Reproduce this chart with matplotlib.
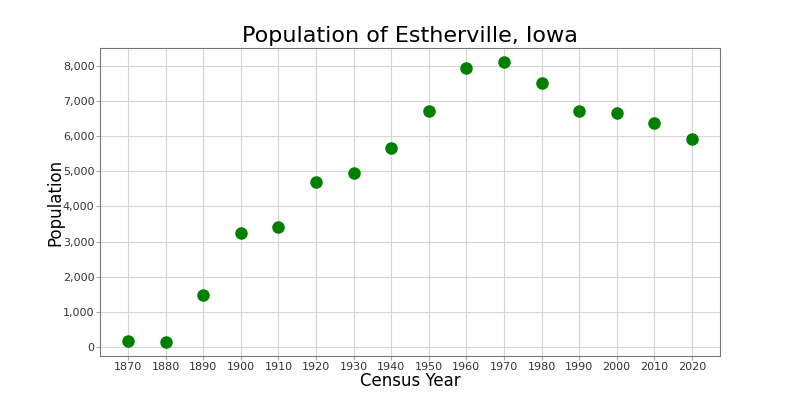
import matplotlib
matplotlib.use('Agg')
import matplotlib.pyplot as plt
from matplotlib.ticker import FuncFormatter

years = [1870, 1880, 1890, 1900, 1910, 1920, 1930, 1940, 1950, 1960, 1970, 1980, 1990, 2000, 2010, 2020]
population = [178, 145, 1475, 3237, 3404, 4699, 4940, 5651, 6719, 7927, 8108, 7518, 6720, 6656, 6360, 5904]

fig, ax = plt.subplots(figsize=(8, 4), dpi=100)
ax.plot(years, population, 'o', color='green', markersize=8)
ax.set_title('Population of Estherville, Iowa', fontsize=16, pad=4)
ax.set_xlabel('Census Year', fontsize=12, labelpad=0)
ax.set_ylabel('Population', fontsize=12, labelpad=-1)
ax.set_xticks(years)
ax.set_ylim(-250, 8500)
ax.yaxis.set_major_formatter(FuncFormatter(lambda v, p: '{:,.0f}'.format(v)))
ax.tick_params(labelsize=8, labelcolor='#333333', color='#aaaaaa', length=3, pad=1)
ax.grid(True, color='#d5d5d5', linewidth=0.8)
ax.set_axisbelow(True)
for s in ax.spines.values():
    s.set_color('#777777')

fig.savefig('out.png')
